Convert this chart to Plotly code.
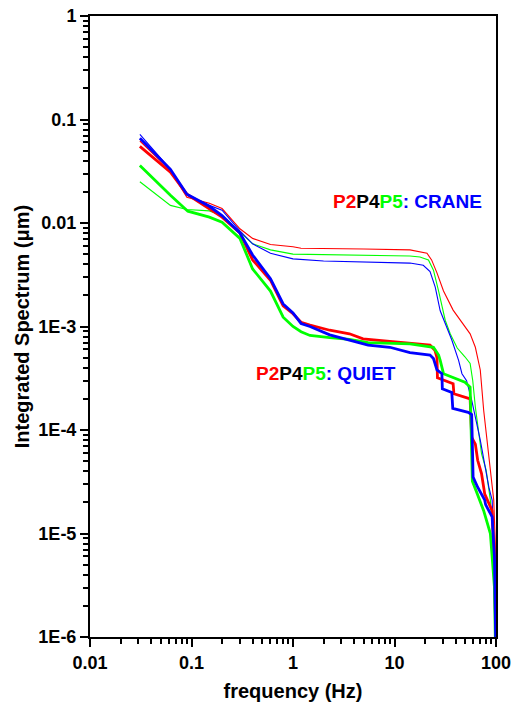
import plotly.graph_objects as go

# ---- data (frequency in Hz, integrated spectrum in µm) ----
crane_red_f = [0.031, 0.062, 0.09, 0.15, 0.2, 0.3, 0.4, 0.6, 1.0, 1.2, 5, 14.2, 20.9, 23.2, 26.2, 30.4, 37.8, 47, 55.6, 62.6, 70, 75.6, 84.8, 95, 98.5, 100]
crane_red_v = [0.062, 0.032, 0.0177, 0.0155, 0.0138, 0.0088, 0.0071, 0.0062, 0.0059, 0.0057, 0.0056, 0.0055, 0.0051, 0.0044, 0.0033, 0.0022, 0.00144, 0.00107, 0.00085, 0.00063, 0.00038, 0.000155, 5.9e-5, 2.1e-5, 8e-6, 1e-6]

crane_green_f = [0.031, 0.062, 0.09, 0.15, 0.2, 0.3, 0.4, 0.6, 1.0, 14.2, 17.8, 21.6, 24.2, 27.2, 29.3, 31.6, 35.4, 41.5, 49.4, 55.6, 59, 62.6, 72, 80, 88, 96, 100]
crane_green_v = [0.025, 0.0148, 0.0135, 0.0131, 0.0118, 0.0082, 0.0063, 0.0055, 0.0050, 0.0048, 0.0047, 0.0044, 0.0035, 0.0022, 0.00155, 0.00115, 0.00085, 0.00062, 0.00051, 0.00044, 0.00030, 0.000167, 5.9e-5, 4.1e-5, 2.1e-5, 6e-6, 1e-6]

crane_blue_f = [0.031, 0.062, 0.09, 0.15, 0.2, 0.3, 0.4, 0.6, 1.0, 2.0, 14.2, 19.2, 22.4, 25.2, 28.2, 31.6, 36.7, 42.8, 46.2, 51.3, 57.6, 70, 85, 91.6, 97, 100]
crane_blue_v = [0.072, 0.033, 0.019, 0.0148, 0.0133, 0.0084, 0.0063, 0.0051, 0.0045, 0.0043, 0.0041, 0.0039, 0.0034, 0.0024, 0.00142, 0.00107, 0.00074, 0.00047, 0.00035, 0.00030, 0.000194, 8e-5, 2.8e-5, 2.1e-5, 6e-6, 1e-6]

quiet_red_f = [0.031, 0.062, 0.09, 0.15, 0.2, 0.3, 0.4, 0.6, 0.8, 1.0, 1.2, 1.47, 2.3, 3.6, 4.9, 9, 14.2, 22.4, 25, 26.2, 26.5, 37.8, 38.5, 55.6, 57.6, 62.6, 66, 72, 77.5, 91.6, 95, 100]
quiet_red_v = [0.055, 0.031, 0.019, 0.0138, 0.0114, 0.0080, 0.0044, 0.0028, 0.00158, 0.00133, 0.0011, 0.00103, 0.00092, 0.00085, 0.00076, 0.00072, 0.00069, 0.00066, 0.00059, 0.00050, 0.00032, 0.00028, 0.000224, 0.0002, 8.5e-5, 7.3e-5, 5.1e-5, 3.8e-5, 2.4e-5, 1.66e-5, 7.3e-6, 1e-6]

quiet_green_f = [0.031, 0.062, 0.092, 0.15, 0.2, 0.3, 0.4, 0.6, 0.8, 1.0, 1.2, 1.47, 2.3, 3.6, 5.5, 14.2, 24.2, 27.2, 28.2, 30.4, 49.4, 55.6, 57.6, 58.5, 63.5, 75.6, 88, 91.6, 96.6, 100]
quiet_green_v = [0.036, 0.0185, 0.013, 0.0114, 0.0102, 0.0071, 0.0036, 0.0022, 0.00123, 0.00100, 0.00089, 0.00082, 0.00078, 0.00075, 0.00070, 0.00068, 0.00063, 0.00053, 0.00047, 0.00035, 0.00029, 0.00026, 6e-5, 3.2e-5, 2.6e-5, 1.66e-5, 1e-5, 5.9e-6, 3e-6, 3.8e-7]

quiet_blue_f = [0.031, 0.062, 0.09, 0.15, 0.2, 0.3, 0.4, 0.6, 0.8, 1.0, 1.2, 1.47, 2.3, 3.6, 5.5, 9, 14.2, 22.4, 24.2, 26.2, 29.3, 29.6, 36.7, 37.5, 53.2, 57.6, 59, 59.5, 66, 77.5, 79, 91.6, 96.6, 100]
quiet_blue_v = [0.066, 0.033, 0.019, 0.0145, 0.0118, 0.0080, 0.0049, 0.0029, 0.00165, 0.00135, 0.00107, 0.0010, 0.00083, 0.00074, 0.00066, 0.00063, 0.00056, 0.00053, 0.00049, 0.00038, 0.00035, 0.00025, 0.00023, 0.000162, 0.000148, 0.000141, 6.3e-5, 3.5e-5, 2.8e-5, 2.1e-5, 1.9e-5, 1.45e-5, 5.9e-6, 5.6e-7]

x_tick_vals = [0.01, 0.1, 1, 10, 100]
x_tick_text = ["0.01", "0.1", "1", "10", "100"]
y_tick_vals = [1e-6, 1e-5, 1e-4, 1e-3, 0.01, 0.1, 1]
y_tick_text = ["1E-6", "1E-5", "1E-4", "1E-3", "0.01", "0.1", "1"]

RED, GREEN, BLUE = "#ff0000", "#00ff00", "#0000ff"

fig = go.Figure()
series = [
    (crane_red_f, crane_red_v, RED, 1.1),
    (crane_green_f, crane_green_v, GREEN, 1.1),
    (crane_blue_f, crane_blue_v, BLUE, 1.1),
    (quiet_red_f, quiet_red_v, RED, 2.8),
    (quiet_green_f, quiet_green_v, GREEN, 2.8),
    (quiet_blue_f, quiet_blue_v, BLUE, 2.8),
]
for f, v, c, w in series:
    fig.add_trace(go.Scatter(x=f, y=v, mode="lines", line=dict(color=c, width=w), showlegend=False))

minor_x = [m * 10 ** e for e in range(-2, 2) for m in range(2, 10)]
minor_y = [m * 10 ** e for e in range(-6, 0) for m in range(2, 10)]

font = dict(family="Liberation Sans, Arial", size=18, color="black", weight="bold")
tfont = dict(family="Liberation Sans, Arial", size=20, color="black", weight="bold")

fig.update_xaxes(
    type="log", range=[-2, 2], tickmode="array", tickvals=x_tick_vals, ticktext=x_tick_text,
    ticks="outside", ticklen=8, tickwidth=2, tickcolor="black", ticklabeloverflow="allow",
    showline=True, linecolor="black", linewidth=2, mirror=True, showgrid=False, zeroline=False,
    tickfont=font, title=dict(text="frequency (Hz)", font=tfont, standoff=12),
    minor=dict(tickmode="array", tickvals=minor_x, ticks="outside", ticklen=5, tickwidth=1.5, tickcolor="black", showgrid=False),
)
fig.update_yaxes(
    type="log", range=[-6, 0], tickmode="array", tickvals=y_tick_vals, ticktext=y_tick_text,
    ticks="outside", ticklen=8, tickwidth=2, tickcolor="black", ticklabeloverflow="allow",
    showline=True, linecolor="black", linewidth=2, mirror=True, showgrid=False, zeroline=False,
    tickfont=font, title=dict(text="Integrated Spectrum (\u03bcm)", font=tfont, standoff=3),
    minor=dict(tickmode="array", tickvals=minor_y, ticks="outside", ticklen=5, tickwidth=1.5, tickcolor="black", showgrid=False),
)

afont = dict(family="Liberation Sans, Arial", size=19, color="black", weight="bold")
lab_crane = ("<span style='color:#ff0000'>P2</span><span style='color:#000000'>P4</span>"
             "<span style='color:#00ff00'>P5</span><span style='color:#0000ff'>: CRANE</span>")
lab_quiet = ("<span style='color:#ff0000'>P2</span><span style='color:#000000'>P4</span>"
             "<span style='color:#00ff00'>P5</span><span style='color:#0000ff'>: QUIET</span>")
fig.add_annotation(text=lab_crane, xref="paper", yref="paper", x=0.593, y=0.7005,
                   xanchor="left", yanchor="middle", showarrow=False, font=afont)
fig.add_annotation(text=lab_quiet, xref="paper", yref="paper", x=0.404, y=0.4246,
                   xanchor="left", yanchor="middle", showarrow=False, font=afont)

fig.update_layout(
    width=511, height=704, margin=dict(l=90, r=15, t=16, b=67, autoexpand=False),
    plot_bgcolor="white", paper_bgcolor="white",
)
# remove the default 8px page margin so the 511x704 figure fills the window exactly
fig.write_html("out.html", config={"displayModeBar": False},
               post_script="document.body.style.margin='0';document.body.style.overflow='hidden';")
